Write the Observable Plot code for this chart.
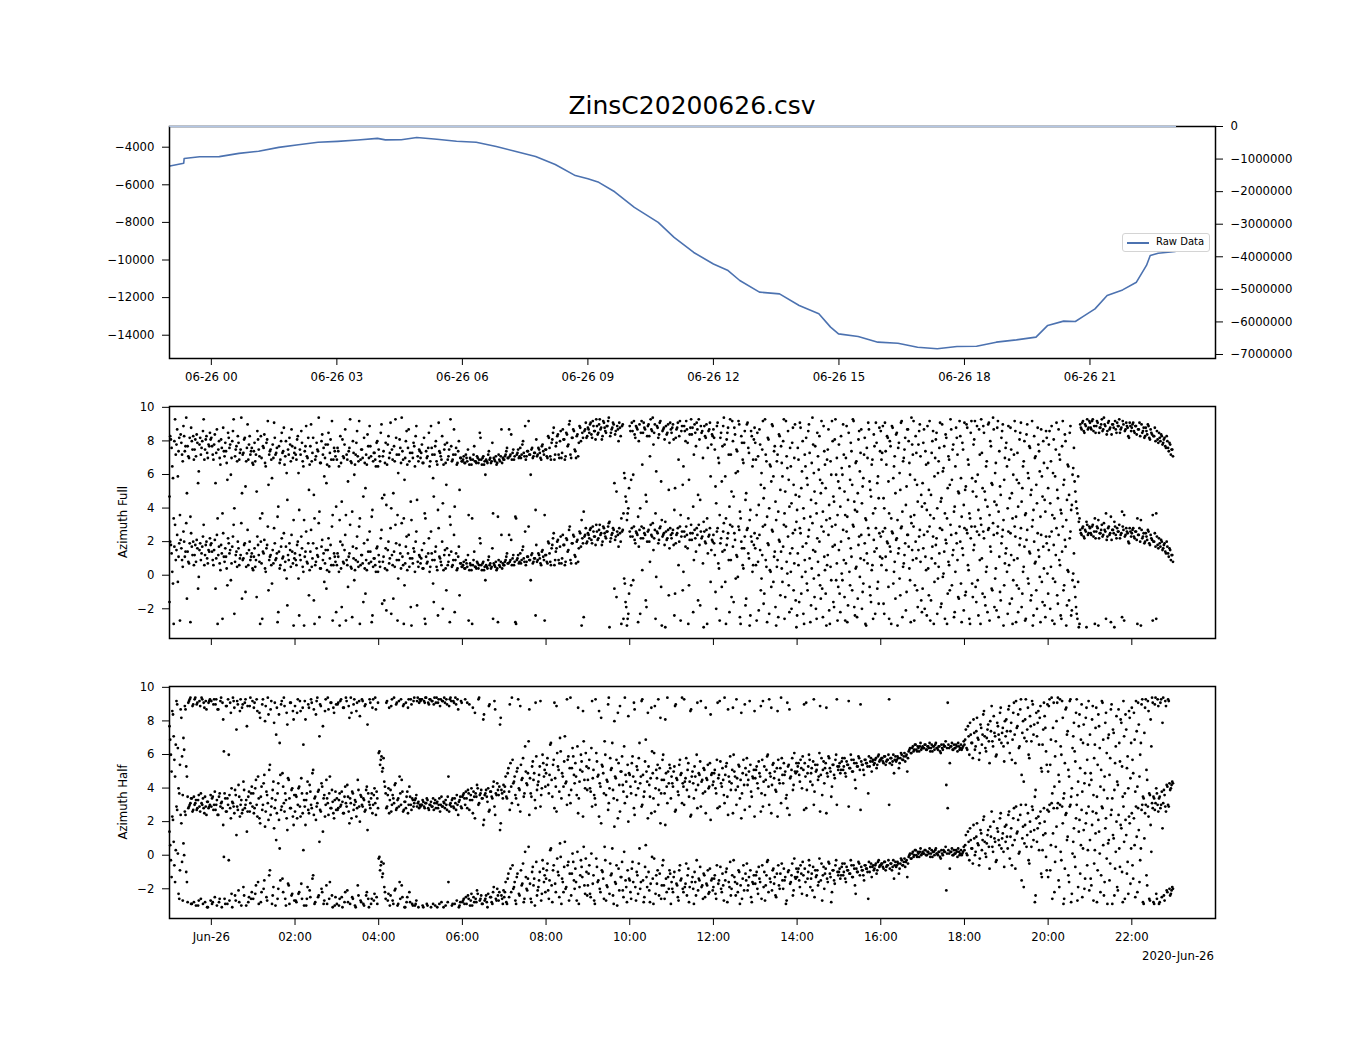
<!DOCTYPE html>
<html><head><meta charset="utf-8">
<script src="https://cdn.jsdelivr.net/npm/d3@7"></script>
<script src="https://cdn.jsdelivr.net/npm/@observablehq/plot@0.6"></script>
<style>
body{margin:0;background:#fff;}
#fig{position:relative;width:1350px;height:1050px;background:#fff;font-family:"DejaVu Sans",sans-serif;color:#000;overflow:hidden;}
#fig svg{position:absolute;left:0;overflow:visible;}
.title{position:absolute;left:169px;width:1046px;text-align:center;top:93px;font-size:25px;line-height:25px;}
.offset{position:absolute;right:136px;top:950px;font-size:11.7px;line-height:12px;}
.ylab{position:absolute;font-size:11.7px;line-height:12px;white-space:nowrap;transform:translate(-50%,-50%) rotate(-90deg);}
.legend{position:absolute;left:1122px;top:233px;width:86px;height:17px;border:1px solid #d4d4d4;border-radius:3px;background:rgba(255,255,255,0.85);z-index:5;}
.legend .ln{position:absolute;left:4px;top:8px;width:22px;height:1.6px;background:#4c72b0;}
.legend .tx{position:absolute;left:33px;top:2px;font-size:10px;line-height:12px;}
</style></head><body><div id="fig"></div><script>
// ---------- data ----------
// Raw data line: hours relative to 2020-06-26 00:00 and values (left axis)
const rawHours = [-0.99,-0.66,-0.65,-0.28,0.19,0.66,1.13,1.61,2.08,2.55,3.02,3.5,3.97,4.16,4.54,4.91,5.39,5.86,6.33,6.81,7.28,7.75,8.22,8.7,9.0,9.26,9.64,10.11,10.68,11.06,11.53,12.0,12.35,12.63,13.1,13.58,14.05,14.52,14.8,14.99,15.46,15.93,16.41,16.88,17.35,17.82,18.29,18.76,19.24,19.71,19.99,20.37,20.65,20.84,21.12,21.41,21.78,22.11,22.35,22.44,22.63,23.04];
const rawValues = [-5000,-4854,-4600,-4510,-4500,-4330,-4215,-4010,-3870,-3740,-3690,-3620,-3530,-3610,-3600,-3480,-3580,-3680,-3740,-3960,-4230,-4490,-4920,-5510,-5680,-5870,-6370,-7200,-8000,-8800,-9600,-10210,-10560,-11090,-11710,-11800,-12420,-12860,-13570,-13930,-14070,-14370,-14430,-14640,-14720,-14600,-14590,-14370,-14250,-14100,-13480,-13250,-13270,-13000,-12600,-11890,-11590,-11180,-10290,-9760,-9640,-9550];
// second series on right axis
const rightHours = [-0.99, 23.04];
const rightValues = [0, 0];
const leftTicks = [-14000,-12000,-10000,-8000,-6000,-4000];
const rightTicks = [0,-1000000,-2000000,-3000000,-4000000,-5000000,-6000000,-7000000];
const azTicks = [-2,0,2,4,6,8,10];
const topTickHours = [0,3,6,9,12,15,18,21];
const bottomTickHours = [0,2,4,6,8,10,12,14,16,18,20,22];

// Azimuth samples (radians, -pi..pi), one string per hour starting 2020-06-25 23:00.
// "Even" strings: samples at even minutes; "Odd" strings: samples at odd minutes.
const sampleMinutes = 2;
const azFullHoursEven = [
"-1.6 1.8 0.2 -2.9 3.0 1.5 -0.4 1.9 2.1 0.9 2.6 1.1 3.1 1.4 0.7 -2.8 1.7 2.0 1.2 0.8 1.6 -0.1 1.9 1.3 2.3 0.6 1.8 1.0 1.5 2.2",
"1.9 0.9 1.5 -0.8 2.4 1.2 0.7 1.8 -2.6 1.1 1.6 0.4 2.2 1.3 -0.3 1.7 3.0 0.8 1.4 2.0 0.6 1.2 -1.4 1.0 1.9 0.5 2.7 1.5 0.9 1.3",
"0.3 1.6 0.9 2.3 1.2 -2.9 0.7 1.4 2.1 0.2 1.8 -0.9 1.1 0.6 1.5 2.8 0.9 1.3 -2.2 0.4 1.7 1.0 2.5 0.8 -0.2 1.2 1.9 0.5 1.4 -3.0",
"1.3 0.6 2.0 -2.4 0.9 1.6 0.2 1.1 2.6 0.7 -1.2 1.4 0.5 1.9 -2.9 0.8 1.2 3.1 0.4 1.7 0.9 -0.4 1.5 0.3 2.2 1.0 0.6 -2.7 1.3 0.8",
"0.6 1.1 -3.0 0.4 1.8 0.7 2.4 0.9 -0.7 1.3 0.5 -2.5 1.0 0.3 1.6 0.8 2.9 0.6 1.2 -1.6 0.4 0.9 2.1 0.7 1.4 -2.8 0.5 1.0 0.2 1.7",
"1.2 0.5 2.7 0.8 -1.5 1.6 0.3 2.0 1.0 -2.3 0.6 1.4 3.0 0.9 -0.2 1.8 0.4 1.1 -2.9 0.7 2.3 1.3 0.5 -1.9 1.0 1.6 0.2 2.6 0.8 1.2",
"0.7 1.5 0.4 -2.6 1.1 0.8 2.2 0.5 1.3 -0.5 0.9 1.7 0.3 2.8 1.0 0.6 -2.0 1.2 0.4 1.6 0.8 -2.8 1.4 0.6 2.4 0.9 0.3 1.1 -1.2 0.7",
"0.5 0.8 0.4 0.7 1.2 0.3 0.6 -2.9 0.9 0.5 0.4 0.7 0.6 1.9 0.3 0.8 0.5 0.6 0.4 1.1 0.7 0.5 -2.6 0.6 0.8 0.4 0.9 0.5 2.4 0.7",
"0.6 0.9 1.3 0.7 0.8 2.1 1.0 0.6 -2.8 0.9 1.2 0.8 0.7 1.5 1.0 2.6 0.8 1.1 0.9 -0.3 1.3 0.8 1.0 1.8 0.9 1.2 0.7 1.4 1.1 -2.7",
"1.2 0.7 1.9 0.8 1.6 2.2 0.6 1.4 2.0 0.9 1.7 0.7 2.4 1.8 0.8 2.1 1.5 2.9 0.7 1.9 2.3 1.1 2.0 0.8 2.6 1.7 2.2 -2.5 2.4 1.9",
"2.5 2.2 2.8 1.9 2.6 2.3 3.0 2.1 2.7 2.4 1.8 2.9 2.5 2.2 2.6 3.1 2.0 2.4 2.8 -0.8 2.3 2.6 1.7 2.5 -2.9 2.7 -0.2 -1.6 -3.0 -2.3",
"2.6 -0.6 2.3 2.9 1.9 2.5 -2.8 2.7 2.2 0.3 2.8 2.4 -1.9 2.6 2.0 3.0 2.3 1.5 2.7 -0.1 2.5 2.1 2.9 -3.0 2.4 1.8 2.6 2.2 -1.2 2.8",
"2.2 2.7 -2.4 1.9 2.5 0.6 2.9 2.3 -0.9 2.6 1.7 2.4 -2.9 2.1 3.0 2.5 0.9 2.2 2.8 -1.5 1.8 2.6 2.3 -3.1 2.0 2.7 1.3 2.4 -0.4 2.1",
"2.4 1.2 -2.0 2.8 0.4 1.9 -0.7 2.6 1.5 -2.9 2.2 0.9 3.0 -1.3 1.7 2.5 -0.2 1.1 2.9 -2.5 2.0 0.6 1.6 -1.8 2.7 1.3 -3.0 2.3 0.2 1.8",
"1.6 -2.7 0.8 2.4 -0.9 1.2 -1.7 3.0 0.5 1.9 -2.3 0.2 2.7 -0.4 1.4 -3.0 0.9 2.1 -1.2 0.4 1.7 -2.6 2.9 0.1 -0.6 1.3 -2.0 2.5 0.7 -1.5",
"-2.4 0.6 2.8 -1.1 1.7 -2.9 0.2 -0.5 2.3 1.0 -1.8 3.1 -0.2 1.4 -2.6 0.8 2.0 -1.4 -0.8 2.6 0.3 -3.0 1.2 -2.1 0.5 2.9 -1.6 1.8 -0.3 -2.7",
"1.5 -2.2 0.1 2.7 -1.3 0.7 -2.8 2.2 -0.6 1.1 3.0 -1.9 0.4 -2.5 1.8 -0.1 2.4 -1.0 0.9 -2.9 1.3 2.8 -0.7 -1.6 0.6 2.1 -2.3 1.6 -0.4 2.5",
"2.3 1.0 -1.7 2.8 0.3 1.9 -2.6 1.4 2.6 -0.5 0.8 2.1 -3.0 1.6 -1.2 2.9 0.5 1.2 -2.1 2.4 1.7 -0.3 3.1 0.9 -2.7 2.0 -0.9 1.5 2.7 -1.5",
"-0.8 2.4 1.1 -2.4 0.4 2.9 -1.5 1.7 -2.9 0.7 2.2 -0.2 1.3 -1.9 2.7 0.1 -2.6 1.9 -1.1 0.6 3.0 -0.6 1.5 -2.2 2.5 0.9 -1.4 2.0 -2.8 1.2",
"2.8 -1.0 2.5 0.3 -2.9 2.9 -1.3 1.8 -0.7 2.6 -2.4 0.9 3.0 -1.1 2.2 -1.8 0.5 2.7 -2.7 1.4 -0.9 2.4 -0.2 -2.1 2.9 1.1 -1.5 2.3 -3.0 0.7",
"1.6 -2.3 0.6 2.5 -1.4 -0.3 2.9 -2.8 1.0 -0.8 2.2 -1.9 0.2 1.7 -2.6 2.7 -0.5 1.3 -1.2 -3.0 2.0 0.8 -2.0 1.5 -0.1 2.4 -1.6 0.4 -2.5 1.9",
"-1.1 2.3 0.5 -2.7 1.8 -0.4 2.8 -1.7 0.9 -2.4 1.4 -0.9 2.1 -3.0 0.3 -1.5 2.6 -2.1 0.1 -0.7 -1.9 -2.6 -3.1 2.7 2.4 2.9 2.2 2.6 3.0 2.5",
"2.8 2.4 3.0 2.6 2.2 2.9 -3.0 2.5 2.7 2.3 3.1 2.6 2.1 2.8 2.4 -2.8 2.7 2.5 2.9 2.2 2.6 3.0 2.4 -2.5 2.7 2.3 2.8 2.5 1.9 2.6",
"2.5 2.8 2.2 2.6 -2.9 2.4 2.0 2.7 2.3 1.9 2.5 2.1 2.6 1.8 2.2 -2.7 2.0 1.7 2.3 1.6 1.9 2.1 1.5 1.8 1.4 2.0 1.3 1.6 0.9 1.2"
];
const azFullHoursOdd = [
"2.0 1.3 -0.5 1.7 0.9 2.4 1.1 -2.7 1.6 0.5 2.0 1.4 -1.4 0.8 1.9 2.5 1.2 0.6 1.8 2.1 -0.8 1.5 0.9 1.7 3.0 1.2 2.0 0.7 1.4 1.8",
"1.4 0.6 2.1 1.0 -2.9 1.7 0.3 1.3 2.5 0.8 1.1 -0.6 1.9 1.5 0.7 2.3 -2.3 1.2 0.5 1.6 1.0 3.1 0.9 1.8 -1.0 1.3 0.6 2.0 1.1 0.4",
"1.1 0.5 -1.3 1.8 0.8 2.0 -2.6 1.3 0.4 1.6 2.9 0.9 1.2 -0.5 0.7 1.9 1.0 -2.8 1.4 0.6 2.2 1.1 0.3 1.7 -1.8 0.9 1.5 2.4 0.7 1.0",
"0.9 1.8 -0.2 1.2 2.3 0.5 -3.0 1.4 0.8 1.9 0.3 2.7 1.0 -1.5 0.6 1.6 1.1 -2.5 0.4 2.1 1.3 0.7 -0.8 1.5 0.2 1.8 2.9 0.6 1.1 -2.2",
"1.3 0.2 2.0 -1.9 0.8 1.5 -2.7 0.6 1.1 3.0 0.4 1.7 -0.3 0.9 2.3 0.5 -2.9 1.2 0.7 1.9 -1.1 0.3 1.4 2.6 0.8 -2.4 1.0 0.6 1.6 0.2",
"0.8 2.2 -1.7 1.1 0.4 -2.1 1.5 0.7 2.8 1.2 -1.4 0.5 1.9 -2.7 0.9 1.3 3.1 0.6 -0.6 1.7 0.3 2.4 1.0 -3.0 0.7 1.4 2.0 -1.8 0.5 1.1",
"1.0 0.4 1.9 -2.9 0.7 1.3 0.2 2.6 0.9 -1.6 1.4 0.5 -2.4 1.1 0.8 2.0 0.3 1.5 -0.9 0.6 1.2 3.0 0.5 0.9 -2.2 1.3 0.4 1.7 0.7 0.5",
"0.6 0.4 0.9 0.5 -2.7 0.7 0.3 0.6 1.4 0.5 0.8 0.4 2.2 0.6 0.7 0.3 -0.3 0.5 0.9 0.6 0.4 1.6 0.7 0.5 0.3 -2.8 0.6 0.8 0.4 0.6",
"0.8 1.1 0.7 2.4 0.9 0.6 1.2 0.8 -2.9 1.0 0.7 1.3 0.9 1.7 0.8 0.6 1.1 2.9 0.9 1.2 0.7 1.0 -2.4 0.8 1.3 1.0 0.6 1.5 0.9 1.2",
"0.8 2.0 1.3 0.6 1.8 2.5 0.9 1.6 2.1 0.7 2.3 1.0 1.8 0.6 2.2 1.4 2.7 0.9 1.9 2.4 1.2 0.7 2.1 1.6 2.5 -3.0 1.9 2.3 2.8 2.0",
"2.4 2.7 2.1 2.9 2.3 1.8 2.6 2.2 3.0 2.5 2.0 2.8 2.3 2.6 2.9 -3.1 2.2 2.5 2.7 2.1 -1.3 2.4 2.8 2.0 2.6 -2.6 -0.5 -1.9 -2.6 -1.1",
"2.3 2.8 -0.3 2.1 2.6 2.4 1.7 -2.3 2.9 2.2 2.5 -1.5 2.0 2.7 0.8 2.4 3.1 2.2 -2.6 2.6 1.9 2.8 -0.7 2.3 2.5 -3.1 2.1 2.7 1.6 2.4",
"2.5 1.8 -1.1 2.4 2.8 2.0 -2.7 2.6 0.2 2.3 2.9 1.6 -0.6 2.5 2.1 -2.2 2.7 1.4 2.4 3.0 -1.8 2.2 0.7 2.6 1.9 -2.9 2.3 2.8 1.5 2.0",
"1.9 -1.0 2.6 0.7 -2.7 2.2 1.4 3.1 -0.4 1.8 2.5 -2.2 0.9 2.9 -1.6 2.1 1.2 -0.1 2.7 -2.9 1.6 0.4 2.3 -1.4 2.8 1.0 -2.4 2.0 0.6 2.5",
"0.6 2.2 -2.1 1.5 -0.2 2.9 -1.1 0.9 -2.8 1.8 0.3 -0.7 2.6 1.1 -1.9 0.5 -2.5 2.0 1.4 -0.4 3.0 -1.3 0.8 2.3 -2.2 0.2 1.6 -0.9 2.7 -3.1",
"1.3 -1.6 2.5 -0.1 -2.3 0.9 1.9 -0.9 2.7 -2.8 0.4 1.5 -1.3 -2.0 2.2 0.0 -0.6 2.9 -2.5 1.1 -1.1 0.6 2.4 -2.9 -0.3 1.7 -1.9 3.0 0.7 -0.7",
"-1.1 2.0 -0.3 0.9 -2.7 2.6 -1.8 0.2 1.6 -0.9 2.9 -2.4 0.5 -1.4 2.3 1.0 -2.0 -0.5 1.9 -3.0 0.7 2.4 -1.2 0.3 -2.6 1.4 2.8 -0.8 -1.7 1.1",
"0.6 2.6 -2.3 1.1 2.0 -0.7 1.7 -2.9 2.5 0.2 -1.4 2.2 1.3 -0.2 2.8 -2.5 0.7 1.9 -1.0 2.4 0.4 -2.8 1.5 2.9 -0.6 1.0 -1.9 2.3 0.8 -2.2",
"1.6 -2.0 0.3 2.6 -1.2 -2.7 1.0 2.3 -0.4 1.8 -2.3 0.5 2.8 -1.7 -0.1 1.4 2.1 -2.9 0.8 -0.9 2.4 1.2 -2.5 0.2 1.9 -1.3 2.9 -0.5 1.6 -2.1",
"-1.2 2.7 0.6 -2.6 2.2 -0.5 1.5 2.9 -1.6 -0.3 2.4 -2.9 1.0 2.6 -1.3 0.2 -2.2 2.8 1.7 -0.8 3.1 -1.9 0.4 2.5 -2.5 -1.0 1.9 2.7 -0.6 1.3",
"0.2 2.6 -1.7 1.2 -2.9 0.9 2.3 -0.6 -2.2 1.8 2.8 -1.1 0.5 -2.7 2.1 -0.2 1.4 -1.5 2.9 -2.4 0.7 -0.9 2.5 1.1 -2.8 -0.4 1.7 -1.8 2.3 0.1",
"1.5 -2.0 2.6 -0.2 -2.9 1.2 -1.2 2.4 0.6 -2.6 2.9 -0.6 1.7 -1.8 0.2 2.2 -2.4 -0.3 1.3 -1.3 -2.3 -0.4 -2.9 2.5 2.8 2.3 2.7 -3.1 2.4 2.9",
"2.5 2.9 2.3 -2.9 2.6 2.8 2.2 2.5 3.0 2.4 2.7 -2.6 2.3 2.9 2.5 2.1 2.7 -3.1 2.4 2.8 2.6 2.2 2.5 2.9 -2.7 2.4 2.6 2.0 2.8 2.3",
"2.7 2.3 2.6 2.1 2.4 2.8 -3.0 2.2 2.5 2.0 2.3 2.7 1.9 2.4 2.1 2.0 2.5 -2.6 1.8 2.2 1.7 2.0 1.6 1.9 1.3 1.7 1.1 1.5 1.2 0.8"
];
const azHalfHoursEven = [
"1.4 -0.3 2.3 0.8 -1.6 2.9 0.1 -2.6 2.4 -0.4 0.7 2.6 -1.0 -2.8 2.9 3.1 -2.9 2.7 3.0 -3.0 2.8 -2.7 2.6 3.1 -2.9 2.5 2.9 -3.1 2.8 3.0",
"2.9 -2.8 3.0 2.7 -3.0 2.4 -2.6 3.1 2.8 -0.1 -2.9 2.6 3.0 -2.7 2.2 -3.1 2.9 -2.4 1.2 2.7 -2.8 3.0 2.5 -1.9 2.8 -3.0 2.6 -2.5 3.1 -2.2",
"-2.6 2.8 -1.8 2.3 -2.9 1.9 -2.2 3.0 -1.5 2.6 -2.7 2.1 -0.9 2.9 -2.4 1.6 -3.0 2.5 -2.0 0.4 2.7 -1.4 3.1 -2.6 2.2 -1.7 -2.9 2.8 -2.3 1.8",
"2.6 -2.8 3.0 -2.2 2.3 -2.6 0.3 2.9 -3.0 -1.9 2.5 -2.5 2.8 -1.2 -2.9 2.1 3.1 -2.4 2.7 -2.0 1.4 -2.7 3.0 -2.9 2.4 -1.6 2.8 -3.1 2.2 -2.5",
"-2.9 2.8 -2.6 3.0 -3.1 2.5 -2.2 2.9 -2.8 1.9 3.1 -2.5 2.7 -3.0 2.3 -1.8 2.9 -2.7 3.0 -2.9 2.6 -2.4 1.5 -3.1 2.8 -2.6 3.0 -2.3 2.4 -2.9",
"-0.2 -0.9 -0.4 -1.1 -1.9 -2.6 2.9 -2.3 -3.0 2.6 -2.7 3.1 -2.0 2.8 -2.9 -1.6 3.0 -2.5 2.7 -3.1 -2.8 2.5 -2.2 3.0 -2.9 2.9 -3.0 -2.7 3.1 2.8",
"2.9 3.0 -3.1 2.8 3.1 -3.0 2.7 3.0 2.9 -2.9 3.1 2.8 -3.1 3.0 2.6 -2.8 2.9 3.1 -3.0 2.7 -1.6 3.0 2.9 -2.9 2.8 3.1 -2.7 2.4 -3.0 2.9",
"-2.8 -2.6 3.0 -2.9 -2.4 2.7 -2.7 -3.0 -2.5 2.2 -2.8 -2.3 3.1 -2.6 -2.9 1.8 -2.7 -2.4 -3.1 2.6 -2.5 -2.8 -2.2 2.9 -2.6 -2.0 -2.7 1.5 -2.4 -2.9",
"-2.5 -1.6 -2.9 -1.1 2.7 -2.2 -0.6 -1.9 -2.7 -1.3 3.0 -2.4 -0.9 -1.7 -2.8 0.2 -2.0 -1.4 2.4 -2.6 -1.0 -1.8 -3.0 -0.4 -2.1 -1.5 2.9 -2.3 -0.8 -1.2",
"-1.4 -0.5 -2.6 0.3 -1.8 -0.9 2.8 -2.2 -0.2 -1.2 0.7 -2.9 -1.6 -0.7 -2.0 3.0 -0.4 -1.1 -2.4 0.1 -1.5 -0.8 -2.7 2.5 -1.9 -0.3 -1.3 0.5 -2.3 -1.0",
"-1.8 -0.6 -2.5 2.9 -1.2 -2.9 -0.2 -1.6 2.3 -2.2 -0.9 -1.4 0.5 -2.7 -1.9 3.1 -0.5 -1.1 -2.4 1.7 -1.7 -3.0 -0.8 2.6 -1.3 -2.1 0.2 -1.5 -2.8 2.0",
"-1.5 -2.6 -0.4 2.8 -1.9 -1.0 -2.3 0.4 -1.6 3.0 -2.8 -0.7 -1.3 2.2 -2.1 -1.7 -0.1 -2.9 2.6 -1.2 -0.9 -2.4 1.9 -1.8 -0.3 -2.6 -1.4 3.1 -2.0 -1.1",
"-1.6 -2.2 -1.0 2.7 -1.8 -2.7 -0.6 -1.4 -2.0 3.0 -1.7 -2.4 -0.8 -1.9 2.4 -1.3 -2.9 -1.6 -0.3 -2.1 -1.5 2.9 -1.8 -1.1 -2.5 -1.7 -0.9 -2.2 2.1 -1.4",
"-1.9 -1.2 -2.6 2.8 -1.5 -0.7 -2.2 -1.8 3.1 -1.0 -2.8 -1.6 -0.4 -2.0 2.5 -1.3 -2.4 -1.7 -0.9 -2.9 2.2 -1.4 -2.1 -1.1 -0.5 -1.8 2.9 -2.5 -1.6 -1.2",
"-1.7 -1.0 -2.3 -1.4 2.6 -0.6 -1.9 -2.7 -1.2 -0.3 3.0 -1.6 -2.1 -0.8 -1.3 -2.5 2.3 -1.8 -1.1 -0.5 -2.0 -1.5 -2.9 2.8 -0.9 -1.7 -1.2 -2.4 -0.2 -1.4",
"-1.3 -0.8 -1.9 -1.1 -0.4 2.7 -1.6 -2.4 -1.0 -0.6 -1.4 -2.1 3.0 -0.9 -1.2 -1.8 -0.2 -1.5 -2.7 -0.7 -1.1 2.5 -1.6 -0.5 -1.3 -2.2 -0.9 -1.7 -0.3 -1.0",
"-1.0 -1.4 -0.7 -1.2 -0.5 -1.6 -0.9 2.9 -1.1 -0.6 -1.3 -0.8 -2.3 -1.0 -0.4 -1.2 -0.7 -0.9 -1.5 -0.6 -0.8 -2.6 -1.0 -0.5 -0.7 -0.9 -0.6 -1.1 -0.4 -0.7",
"-0.6 -0.5 -0.8 -0.4 -0.7 -0.6 3.0 -0.5 -0.9 -0.3 -0.6 -0.7 -0.4 -1.1 -0.5 -0.3 -0.6 -0.2 -0.4 -1.3 -0.1 0.1 -0.2 0.2 0.0 0.3 -0.1 0.1 0.2 0.0",
"0.2 0.1 0.3 0.0 0.2 0.4 0.1 -0.1 0.2 0.3 0.1 0.0 0.2 -0.2 0.1 0.3 0.2 -2.1 2.8 0.1 0.2 0.4 0.0 0.1 0.3 -0.1 0.2 0.1 0.0 0.2",
"0.3 1.2 0.0 0.8 1.6 0.4 -0.5 1.0 0.2 1.9 0.6 -0.2 1.3 0.9 2.3 0.1 0.7 1.5 -0.8 1.1 0.5 2.0 0.8 -0.3 1.4 0.6 2.5 1.0 0.2 1.7",
"1.8 0.4 2.6 1.1 -0.6 2.2 0.9 2.9 1.4 0.1 2.4 -1.5 1.7 0.7 3.0 1.2 -0.3 2.0 0.5 2.7 1.5 -2.4 0.8 2.3 1.9 -1.1 0.3 2.8 1.3 -0.9",
"-1.3 3.0 0.6 -2.6 2.8 -0.4 1.7 3.1 -1.9 0.2 2.9 -2.9 -0.8 2.5 1.1 -1.6 3.0 -2.3 0.8 -0.1 2.2 -2.7 1.4 -1.1 2.7 0.4 -2.0 1.9 -0.6 2.9",
"0.9 -1.8 2.6 -0.5 1.3 -2.8 2.1 0.1 -1.2 2.8 -2.4 1.6 -0.2 0.7 -1.5 2.4 -2.9 1.0 -0.8 2.0 -2.1 0.4 1.8 -1.0 2.9 -2.6 1.2 -0.4 2.3 -1.7",
"2.5 -1.4 0.6 2.9 -2.2 1.5 -0.3 2.7 -2.8 1.0 3.0 -1.8 2.3 -2.7 0.2 2.8 -2.9 3.1 -2.6 2.6 -2.8 3.0 1.6 -2.4 2.9 -2.1 3.0 -2.0 -2.3 -1.9"
];
const azHalfHoursOdd = [
"0.6 -1.3 2.1 -0.6 0.3 2.7 -2.3 -0.9 1.9 -2.7 0.0 2.4 -1.6 2.8 3.0 -2.9 2.6 -2.8 3.1 2.7 -3.0 2.9 -2.6 3.0 2.8 -2.8 2.4 -3.1 2.9 -2.7",
"-2.9 2.7 -2.5 3.0 2.4 -2.8 2.9 -3.1 1.8 -2.6 2.6 -2.9 -0.3 2.8 -2.3 3.1 2.5 -2.7 2.9 -2.1 2.3 -3.0 2.7 -2.4 3.0 1.4 -2.8 2.6 -2.6 2.9",
"2.5 -2.3 3.0 -1.6 2.2 -2.8 2.7 -2.0 1.7 -2.5 3.1 -1.2 2.4 -2.9 -1.9 2.8 0.9 -2.6 2.1 -1.5 2.9 -2.2 2.6 -3.0 1.5 -1.8 2.8 -2.4 2.3 -2.7",
"-2.7 2.2 -2.3 2.9 -1.7 2.5 -3.0 1.8 -2.6 2.7 -2.1 3.0 -1.4 2.4 -2.8 2.9 -2.5 0.8 2.6 -2.2 -2.9 2.3 -1.8 3.1 -2.6 2.8 -2.4 2.5 -3.0 2.7",
"2.7 -3.0 2.9 -2.5 2.5 -2.8 3.1 -2.1 2.6 -2.9 2.2 -2.6 3.0 -3.1 2.8 -2.4 2.0 -2.8 2.9 -3.0 2.7 -2.2 -2.6 3.0 -2.9 2.5 -2.7 3.1 -2.5 2.8",
"-0.1 -0.6 -1.3 -0.5 -2.2 2.8 -2.7 2.5 -2.4 3.0 -2.9 -2.1 2.7 -3.0 2.9 -2.6 -1.8 2.6 -3.1 2.8 -2.5 3.0 -2.8 2.7 -3.0 3.1 -2.9 2.9 -3.1 3.0",
"3.0 -3.0 2.9 3.1 -2.9 2.8 3.0 -3.1 2.9 2.7 -3.0 3.1 2.8 -2.9 3.0 2.9 -3.1 2.8 3.0 -2.8 2.6 3.1 -3.0 2.9 -2.9 2.7 3.0 -3.1 -2.8 2.8",
"-2.7 -2.9 -2.5 2.8 -2.6 -3.0 -2.3 2.5 -2.8 -2.6 -2.1 3.0 -2.7 -2.4 -2.9 2.1 -2.6 -2.8 -2.3 2.7 -2.5 -2.9 -1.9 2.4 -2.7 -2.4 -2.2 1.9 -2.6 -2.1",
"-2.2 -2.8 -1.4 -2.5 -0.8 3.1 -2.0 -1.6 -2.9 -1.1 -2.3 2.6 -1.8 -0.5 -2.6 -1.3 -2.1 0.5 -1.7 -2.8 -0.7 -1.4 2.8 -2.4 -1.9 -1.0 -2.7 -0.3 -1.6 -2.2",
"-0.9 -2.1 -1.5 0.4 -2.8 -0.6 -1.7 2.6 -1.0 -2.5 -0.1 -1.4 -2.2 0.8 -1.9 -0.6 -2.7 3.1 -1.1 -0.4 -2.0 -1.6 0.2 -2.9 -1.2 -0.7 2.3 -1.8 -0.2 -2.4",
"-1.1 -2.3 0.1 -1.7 -2.7 3.0 -0.7 -1.5 -2.0 1.9 -1.0 -2.6 -0.3 -1.8 2.7 -2.3 -1.2 0.4 -2.9 -1.6 -0.6 2.2 -2.1 -1.3 -0.4 -2.5 3.1 -1.9 -0.9 -1.4",
"-2.2 -0.8 -1.6 2.4 -2.7 -1.2 -0.5 -2.0 2.9 -1.5 -2.5 0.6 -1.9 -1.0 -2.8 2.5 -1.4 -0.2 -2.3 -1.7 3.0 -1.1 -2.6 -0.6 -1.8 1.8 -2.2 -1.3 -0.9 -2.9",
"-2.0 -1.3 2.6 -1.7 -2.5 -0.9 -1.5 3.1 -2.2 -1.9 -0.5 -1.2 -2.8 2.3 -1.6 -2.0 -1.0 -2.4 2.8 -1.4 -0.7 -1.9 -2.6 -1.2 2.5 -1.8 -2.3 -0.8 -1.5 -2.1",
"-1.4 -2.3 -0.6 -1.7 2.9 -2.0 -1.1 -2.7 -1.5 -0.8 2.4 -1.9 -2.4 -1.2 -0.3 -1.6 3.0 -2.2 -1.0 -1.8 -2.6 -0.6 2.7 -1.5 -2.1 -1.3 -0.9 -2.8 -1.7 2.3",
"-1.2 -2.0 -0.7 -1.6 -2.6 2.9 -1.0 -1.8 -0.4 -2.2 -1.4 2.5 -0.9 -1.7 -2.4 -1.1 -0.6 -2.0 3.1 -1.5 -0.8 -1.3 -2.7 -1.0 2.4 -1.6 -0.5 -2.1 -1.3 -0.8",
"-1.0 -1.5 -0.6 -2.3 -1.2 -0.8 2.8 -1.4 -0.3 -1.9 -1.1 -0.7 -2.5 -1.3 -0.9 -1.6 2.6 -0.5 -1.2 -2.0 -0.8 -1.4 -0.4 -1.1 -2.8 -0.9 -1.5 -0.6 3.0 -1.2",
"-0.8 -1.2 -0.5 -1.0 -1.4 -0.7 -0.9 -1.1 -0.3 -1.3 -0.6 -1.8 -0.8 -1.0 -0.5 2.7 -0.9 -1.2 -0.6 -0.8 -1.0 -0.4 -0.7 -1.3 -0.6 -0.8 -0.5 -0.9 -0.3 -0.6",
"-0.5 -0.7 -0.4 -0.9 -0.6 -0.3 -0.8 -0.5 -0.7 -1.4 -0.4 -0.6 -0.5 -0.8 -0.2 -0.6 -0.4 -0.7 -0.3 -0.5 0.0 -0.2 0.1 -0.1 0.3 0.0 0.2 -0.1 0.4 0.1",
"0.1 0.3 0.0 0.2 0.1 -0.1 0.3 0.2 0.0 0.4 0.1 0.2 -0.1 0.3 0.0 0.2 0.5 0.1 0.3 -0.8 0.2 0.0 0.3 0.1 0.2 0.4 0.0 0.3 0.1 0.5",
"0.6 0.1 1.4 -0.3 0.9 0.4 1.8 0.0 1.1 0.7 -0.6 1.5 0.3 2.1 0.8 -0.1 1.2 0.5 1.7 2.6 0.2 1.0 -0.4 1.6 0.9 2.2 0.4 1.3 -0.7 0.8",
"1.1 2.4 -0.2 1.6 0.6 2.8 -0.8 1.3 2.1 0.2 3.0 1.0 -1.9 1.8 0.5 2.5 -0.5 1.4 2.9 0.9 -2.8 2.2 1.6 0.3 2.6 -1.3 1.2 2.0 -0.1 2.7",
"2.6 -0.9 3.1 1.3 -2.2 0.5 2.8 -1.5 3.0 -0.3 1.9 -2.6 2.4 0.9 -1.2 2.9 -2.8 0.1 1.6 -0.7 3.0 -1.9 2.1 0.6 -2.5 1.5 -1.4 2.5 0.3 -2.1",
"-1.4 1.8 -2.7 0.3 2.5 -0.9 1.4 -2.2 2.9 0.6 -1.6 2.2 -2.9 0.9 -0.5 2.7 1.2 -2.4 0.2 -1.9 2.4 -0.7 1.6 -2.8 0.8 2.1 -1.1 -2.3 1.9 0.4",
"-0.6 2.2 -2.5 1.1 2.8 -1.6 0.4 3.0 -2.9 2.5 -1.2 2.9 -2.6 1.8 3.1 -2.8 2.7 -2.3 3.0 -2.9 2.8 -2.5 3.1 -2.7 2.6 -2.2 2.9 -2.4 -2.1 -2.0"
];

// ---------- build ----------
const day0 = Date.UTC(2020,5,26,0,0);
const hourDate = h => new Date(day0 + h*3600e3);
const sampleStart = Date.UTC(2020,5,25,23,0);
const xDomain = [new Date(sampleStart), new Date(Date.UTC(2020,5,27,0,0))];
const raw = rawHours.map((h,i)=>({t:hourDate(h), v:rawValues[i]}));
const right = rightHours.map((h,i)=>({t:hourDate(h), v:rightValues[i]}));
function toPoints(hours, offsetMin){
  const pts=[];
  hours.forEach((s,h)=>{
    s.trim().split(/\s+/).map(Number).forEach((v,i)=>{
      const t=new Date(sampleStart+(h*60+i*sampleMinutes+offsetMin)*60000);
      pts.push({t,v},{t,v:v+2*Math.PI});
    });
  });
  return pts;
}
const fullPts = toPoints(azFullHoursEven,0).concat(toPoints(azFullHoursOdd,1));
const halfPts = toPoints(azHalfHoursEven,0).concat(toPoints(azHalfHoursOdd,1));

const W=1350, ML=169, MR=135;
const baseStyle = {background:"transparent", fontFamily:"DejaVu Sans", fontSize:"11.7px", color:"black"};
const fig = document.getElementById("fig");
function place(svg, top){ svg.style.top = top+"px"; fig.appendChild(svg); }

// top panel
const p1 = Plot.plot({
  width:W, height:392, marginLeft:ML, marginRight:MR, marginTop:126, marginBottom:34,
  style:baseStyle,
  x:{type:"utc", domain:xDomain},
  y:{domain:[-15239,-2899]},
  marks:[
    Plot.line(raw,{x:"t",y:"v",stroke:"#4c72b0",strokeWidth:1.6}),
    Plot.axisX({ticks:topTickHours.map(hourDate), tickFormat:d3.utcFormat("%m-%d %H"), tickSize:7, tickPadding:7, label:null}),
    Plot.axisY({ticks:leftTicks, tickFormat:d3.format("d"), tickSize:7, tickPadding:8, label:null}),
    Plot.frame({stroke:"black", strokeWidth:1.5})
  ]
});
place(p1,0);
const p1r = Plot.plot({
  width:W, height:392, marginLeft:ML, marginRight:MR, marginTop:126, marginBottom:34,
  style:baseStyle,
  x:{type:"utc", domain:xDomain, axis:null},
  y:{domain:[-7123000,0]},
  marks:[
    Plot.line(right,{x:"t",y:"v",stroke:"#b3c6e4",strokeWidth:1.6}),
    Plot.axisY({anchor:"right", ticks:rightTicks, tickFormat:d3.format("d"), tickSize:7, tickPadding:8, label:null})
  ]
});
place(p1r,0);

// middle panel
const p2 = Plot.plot({
  width:W, height:268, marginLeft:ML, marginRight:MR, marginTop:14, marginBottom:22,
  style:baseStyle,
  x:{type:"utc", domain:xDomain},
  y:{domain:[-3.77,10.05]},
  marks:[
    Plot.dot(fullPts,{x:"t",y:"v",r:1.4,fill:"black",stroke:"none"}),
    Plot.axisX({ticks:bottomTickHours.map(hourDate), tickFormat:()=>"", tickSize:7, label:null}),
    Plot.axisY({ticks:azTicks, tickFormat:d3.format("d"), tickSize:7, tickPadding:8, label:null}),
    Plot.frame({stroke:"black", strokeWidth:1.5})
  ]
});
place(p2,392);

// bottom panel
const botFmt = d => d.getUTCHours()===0 ? d3.utcFormat("%b-%d")(d) : d3.utcFormat("%H:%M")(d);
const p3 = Plot.plot({
  width:W, height:340, marginLeft:ML, marginRight:MR, marginTop:26, marginBottom:82,
  style:baseStyle,
  x:{type:"utc", domain:xDomain},
  y:{domain:[-3.77,10.05]},
  marks:[
    Plot.dot(halfPts,{x:"t",y:"v",r:1.4,fill:"black",stroke:"none"}),
    Plot.axisX({ticks:bottomTickHours.map(hourDate), tickFormat:botFmt, tickSize:7, tickPadding:7, label:null}),
    Plot.axisY({ticks:azTicks, tickFormat:d3.format("d"), tickSize:7, tickPadding:8, label:null}),
    Plot.frame({stroke:"black", strokeWidth:1.5})
  ]
});
place(p3,660);

// texts
function addDiv(cls, text, css){ const d=document.createElement("div"); d.className=cls; d.textContent=text; Object.assign(d.style, css||{}); fig.appendChild(d); return d; }
addDiv("title","ZinsC20200626.csv");
addDiv("ylab","Azimuth Full",{left:"122.5px",top:"522px"});
addDiv("ylab","Azimuth Half",{left:"122.5px",top:"802px"});
addDiv("offset","2020-Jun-26");
const lg=document.createElement("div"); lg.className="legend";
lg.innerHTML='<div class="ln"></div><div class="tx">Raw Data</div>';
fig.appendChild(lg);
</script></body></html>
